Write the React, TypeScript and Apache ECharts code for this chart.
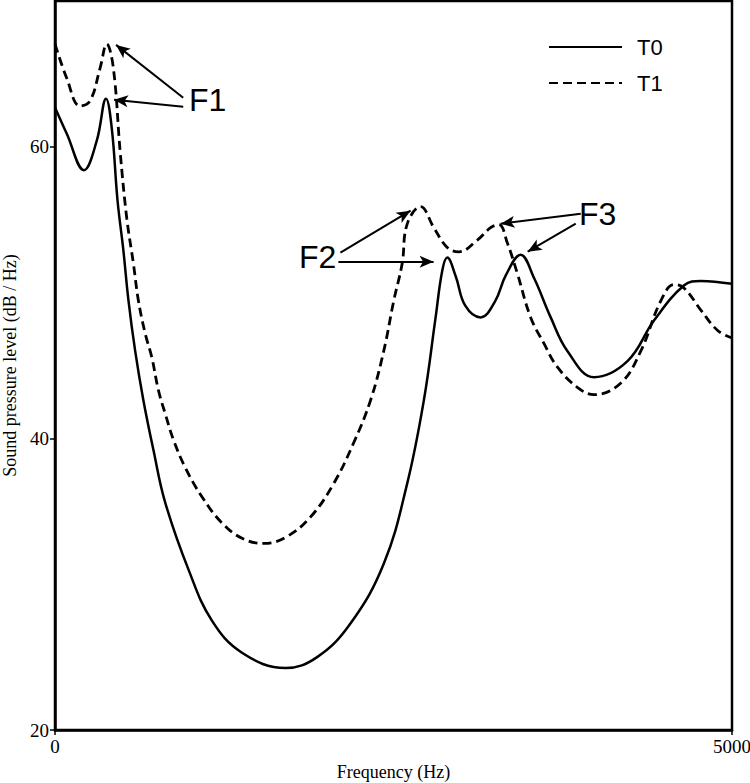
import React, { useEffect, useRef } from "react";
import * as echarts from "echarts";

// T0 (solid) — frequency (Hz), level (dB/Hz)
const t0Freq = [0, 87, 214, 308, 377, 419, 462, 505, 542, 592, 653, 727, 814, 986, 1159, 1381, 1701, 1936, 2182, 2428, 2601, 2724, 2811, 2860, 2897, 2960, 3030, 3143, 3250, 3330, 3439, 3538, 3661, 3784, 3981, 4228, 4425, 4647, 4770, 5000];
const t0Level = [62.7, 60.9, 58.4, 60.4, 63.3, 61.3, 56.3, 52.9, 49.5, 46.0, 42.6, 39.2, 35.6, 31.0, 27.5, 25.3, 24.25, 25.0, 27.3, 31.4, 36.9, 42.6, 48.3, 51.5, 52.4, 51.1, 49.1, 48.3, 49.4, 51.2, 52.6, 51.0, 48.3, 46.0, 44.2, 45.3, 48.1, 50.5, 50.8, 50.6];

// T1 (dashed)
const t1Freq = [0, 87, 185, 259, 333, 382, 431, 481, 530, 579, 616, 666, 715, 764, 814, 875, 962, 1085, 1233, 1381, 1541, 1701, 1886, 2058, 2206, 2330, 2428, 2502, 2564, 2601, 2700, 2798, 2897, 2983, 3119, 3217, 3279, 3341, 3415, 3513, 3612, 3710, 3858, 3981, 4179, 4327, 4475, 4573, 4647, 4770, 4894, 5000];
const t1Level = [67.05, 64.7, 62.8, 63.15, 65.4, 67.05, 65.4, 59.7, 55.1, 52.0, 49.45, 47.2, 45.55, 43.3, 41.7, 39.9, 38.0, 36.0, 34.2, 33.15, 32.8, 33.2, 34.6, 36.9, 39.7, 42.6, 46.0, 49.45, 52.0, 54.7, 55.9, 54.45, 53.1, 52.8, 53.6, 54.45, 54.66, 53.4, 51.3, 48.3, 46.5, 44.9, 43.5, 43.0, 43.8, 46.0, 49.45, 50.55, 50.3, 48.8, 47.4, 46.9];

const yTicks = [20, 40, 60];
const xTicks = [0, 5000];

// formant annotation arrows (from label to peak)
const arrowsFrom = [
  [947, 63.36], [947, 62.74],
  [2108, 52.74], [2093, 52.12],
  [3883, 55.41], [3846, 54.73],
];
const arrowsTo = [
  [451, 66.99], [436, 63.22],
  [2626, 55.62], [2796, 52.12],
  [3291, 54.73], [3491, 52.81],
];

const zip = (a: number[], b: number[]) => a.map((v, i) => [v, b[i]]);

export default function App() {
  const ref = useRef<HTMLDivElement>(null);
  useEffect(() => {
    document.body.style.margin = "0";
    const chart = echarts.init(ref.current!, null, { renderer: "svg" });
    const serif = "Liberation Serif";
    const sans = "Liberation Sans";
    chart.setOption({
      animation: false,
      backgroundColor: "#fff",
      grid: {
        left: 55,
        right: 18,
        top: 1,
        bottom: 53,
        show: true,
        borderColor: "#000",
        borderWidth: 2.5,
        outerBoundsMode: "none",
        containLabel: false,
      },
      legend: {
        left: 543,
        top: 31,
        orient: "vertical",
        itemWidth: 73,
        itemHeight: 14,
        itemGap: 14,
        itemStyle: { opacity: 0 },
        textStyle: {
          fontFamily: sans,
          fontSize: 22,
          color: "#000",
          padding: [0, 0, 0, 10],
        },
        data: ["T0", "T1"],
      },
      xAxis: {
        type: "value",
        min: 0,
        max: 5000,
        name: "Frequency (Hz)",
        nameLocation: "middle",
        nameGap: 33,
        nameTextStyle: { fontFamily: serif, fontSize: 18, color: "#000" },
        axisLine: { show: true, lineStyle: { color: "#000", width: 2.5 } },
        axisTick: { show: true, length: 5, customValues: xTicks, lineStyle: { color: "#000", width: 1.5 } },
        axisLabel: {
          customValues: xTicks,
          formatter: (v: number) => String(v),
          fontFamily: serif,
          fontSize: 19,
          color: "#000",
          margin: 7,
        },
        splitLine: { show: false },
      },
      yAxis: {
        type: "value",
        min: 20,
        max: 70,
        name: "Sound pressure level (dB / Hz)",
        nameLocation: "middle",
        nameGap: 36,
        nameRotate: 90,
        nameTextStyle: { fontFamily: serif, fontSize: 18, color: "#000" },
        axisLine: { show: true, lineStyle: { color: "#000", width: 2.5 } },
        axisTick: { show: true, length: 5, customValues: yTicks, lineStyle: { color: "#000", width: 1.5 } },
        axisLabel: { customValues: yTicks, fontFamily: serif, fontSize: 19, color: "#000", margin: 6 },
        splitLine: { show: false },
      },
      series: [
        {
          name: "T0",
          type: "line",
          data: zip(t0Freq, t0Level),
          smooth: 0.4,
          symbol: "none",
          lineStyle: { color: "#000", width: 2.5, type: "solid" },
          itemStyle: { color: "#000" },
          markLine: {
            silent: true,
            symbol: ["none", "arrow"],
            symbolSize: [9, 14],
            label: { show: false },
            lineStyle: { color: "#000", width: 2, type: "solid" },
            data: arrowsFrom.map((f, i) => [
              { coord: f },
              { coord: arrowsTo[i] },
            ]),
          },
        },
        {
          name: "T1",
          type: "line",
          data: zip(t1Freq, t1Level),
          smooth: 0.4,
          symbol: "none",
          lineStyle: { color: "#000", width: 2.8, type: [9, 5] },
          itemStyle: { color: "#000" },
        },
      ],
      graphic: [
        { type: "text", left: 189, top: 84, style: { text: "F1", font: `32px "${sans}"`, fill: "#000" } },
        { type: "text", left: 299, top: 241, style: { text: "F2", font: `32px "${sans}"`, fill: "#000" } },
        { type: "text", left: 579, top: 198, style: { text: "F3", font: `32px "${sans}"`, fill: "#000" } },
      ],
    });
    return () => chart.dispose();
  }, []);
  return <div ref={ref} style={{ width: 750, height: 783 }} />;
}
